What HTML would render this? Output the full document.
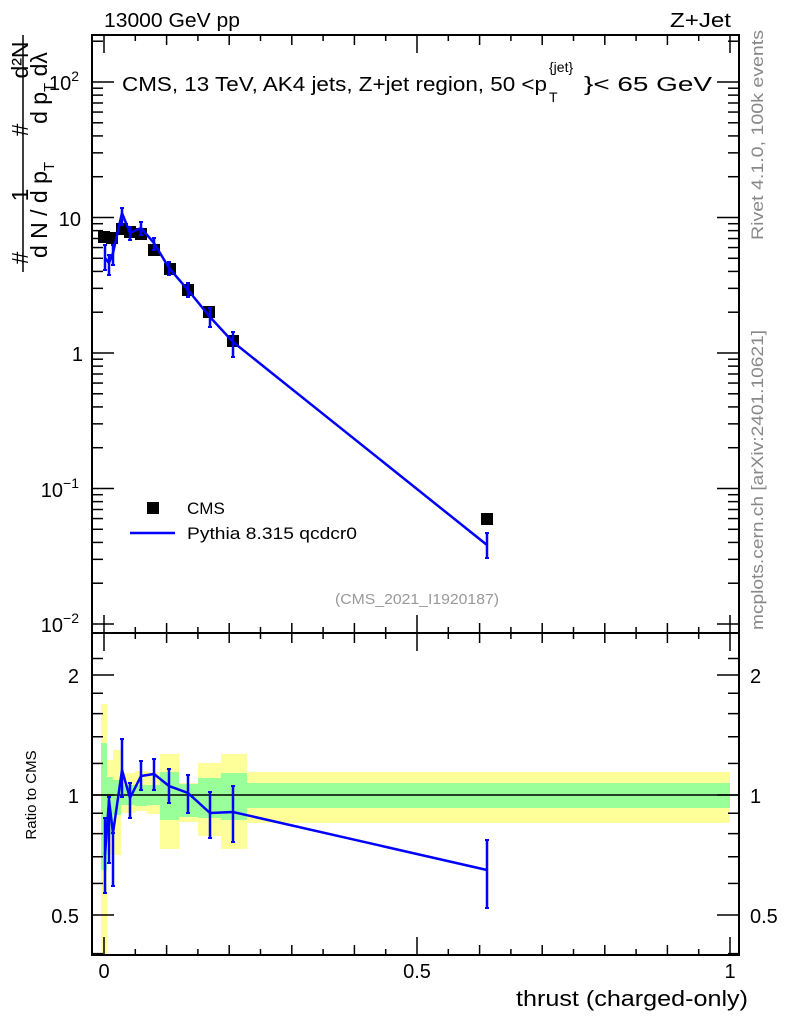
<!DOCTYPE html>
<html><head><meta charset="utf-8"><style>
body{margin:0;background:#fff}
svg{display:block;font-family:"Liberation Sans",sans-serif}
</style></head><body>
<svg id="s" width="786" height="1024" xmlns="http://www.w3.org/2000/svg">
<rect width="786" height="1024" fill="#fff"/>
<g id="bands"></g>
<line x1="92" y1="795" x2="739" y2="795" stroke="#000" stroke-width="1.5"/>
<g id="g"></g>
<rect x="92" y="35" width="647" height="598" fill="none" stroke="#000" stroke-width="2"/>
<rect x="92" y="633" width="647" height="322" fill="none" stroke="#000" stroke-width="2"/>
<g font-size="20">
<text x="104" y="27" textLength="136" lengthAdjust="spacingAndGlyphs">13000 GeV pp</text>
<text x="670" y="27" textLength="61" lengthAdjust="spacingAndGlyphs">Z+Jet</text>
<text x="122" y="91" textLength="425" lengthAdjust="spacingAndGlyphs">CMS, 13 TeV, AK4 jets, Z+jet region, 50 &lt;p</text>
<text x="549" y="102" font-size="14">T</text>
<text x="549" y="72" font-size="14">{jet}</text>
<text x="584" y="91" textLength="128" lengthAdjust="spacingAndGlyphs">}&lt; 65 GeV</text>
<text x="79" y="90" text-anchor="end">10<tspan dy="-9" font-size="14">2</tspan></text>
<text x="81" y="226" text-anchor="end">10</text>
<text x="83" y="361" text-anchor="end">1</text>
<text x="79" y="497" text-anchor="end">10<tspan dy="-9" font-size="14">−1</tspan></text>
<text x="79" y="632" text-anchor="end">10<tspan dy="-9" font-size="14">−2</tspan></text>
<text x="79" y="683" text-anchor="end">2</text>
<text x="79" y="803" text-anchor="end">1</text>
<text x="79" y="923" text-anchor="end">0.5</text>
<text x="750" y="683">2</text>
<text x="750" y="803">1</text>
<text x="750" y="923">0.5</text>
<text x="104" y="978" text-anchor="middle">0</text>
<text x="417" y="978" text-anchor="middle">0.5</text>
<text x="730" y="978" text-anchor="middle">1</text>
<text x="516" y="1006" font-size="22" textLength="232" lengthAdjust="spacingAndGlyphs">thrust (charged-only)</text>
<text x="187" y="514" font-size="17">CMS</text>
<text x="187" y="539" font-size="17" textLength="170" lengthAdjust="spacingAndGlyphs">Pythia 8.315 qcdcr0</text>
</g>
<rect x="147" y="502" width="12" height="12" fill="#000"/>
<line x1="130" y1="533" x2="175" y2="533" stroke="#00f" stroke-width="2.5"/>
<text x="335" y="604" font-size="15" fill="#999" textLength="164" lengthAdjust="spacingAndGlyphs">(CMS_2021_I1920187)</text>
<text transform="translate(763,240) rotate(-90)" font-size="17" fill="#888" textLength="210" lengthAdjust="spacingAndGlyphs">Rivet 4.1.0,  100k events</text>
<text transform="translate(763,630) rotate(-90)" font-size="17" fill="#888" textLength="300" lengthAdjust="spacingAndGlyphs">mcplots.cern.ch [arXiv:2401.10621]</text>
<text transform="translate(36,795) rotate(-90)" font-size="15" text-anchor="middle">Ratio to CMS</text>
<g font-size="23">
<text transform="translate(28,258) rotate(-90)" text-anchor="middle">#</text>
<text transform="translate(28,195) rotate(-90)" text-anchor="middle">1</text>
<text transform="translate(28,130) rotate(-90)" text-anchor="middle">#</text>
<text transform="translate(28,60) rotate(-90)" text-anchor="middle">d²N</text>
<line x1="23" y1="35" x2="23" y2="272" stroke="#000" stroke-width="1.5"/>
<text transform="translate(47,210) rotate(-90)" text-anchor="middle">d N / d p<tspan font-size="15" dy="7">T</tspan></text>
<text transform="translate(47,88) rotate(-90)" text-anchor="middle">d p<tspan font-size="15" dy="7">T</tspan><tspan dy="-7"> dλ</tspan></text>
</g>
</svg>
<script>
const NS="http://www.w3.org/2000/svg";
const g=document.getElementById('g'),b=document.getElementById('bands');
function el(p,t,a){const e=document.createElementNS(NS,t);for(const k in a)e.setAttribute(k,a[k]);p.appendChild(e);return e;}
function ln(x1,y1,x2,y2,c,w){el(g,'line',{x1,y1,x2,y2,stroke:c||'#000','stroke-width':w||1.5});}
for(let d=-2;d<=2;d++){for(let m=1;m<10;m++){const y=353-135.5*(d+Math.log10(m));if(y<35||y>633)continue;const L=m==1?22:11;ln(92,y,92+L,y);ln(739,y,739-L,y);}}
for(const r of [0.4,0.5,0.6,0.7,0.8,0.9,1,1.2,1.4,1.6,1.8,2,2.2]){const y=795-120*Math.log2(r);if(y<633||y>955)continue;const L=(r==0.5||r==1||r==2)?22:11;ln(92,y,92+L,y);ln(739,y,739-L,y);}
for(let i=0;i<=20;i++){const x=104+626*i*0.05;const L=i%10==0?18:(i%2==0?10:6);ln(x,955,x,955-L);ln(x,633,x,633-L);ln(x,633,x,633+L);ln(x,35,x,35+L);}
const bins=[[101,107,704,955,743,870],[107,113,760,855,777,835],[113,121,750,855,780,815],[121,135,773,813,785,805],[135,147,771,811,785,806],[147,160,772,814,785,805],[160,179,754,849,772,820],[179,198,783,822,784,817],[198,221,763,836,778,818],[221,247,754,849,773,820],[247,730,772,823,783,808]];
for(const q of bins){el(b,'rect',{x:q[0],y:q[2],width:q[1]-q[0],height:q[3]-q[2],fill:'#ffff99'});}
for(const q of bins){el(b,'rect',{x:q[0],y:q[4],width:q[1]-q[0],height:q[5]-q[4],fill:'#99ff99'});}
const cms=[[104,237],[112,238],[122,229],[130,232],[141,234],[154,250],[170,269],[188,290],[209,312],[233,341],[487,519]];
for(const p of cms)el(g,'rect',{x:p[0]-6,y:p[1]-6,width:12,height:12,fill:'#000'});
const py=[[105,258,245,270],[109,263,255,275],[113,253,245,265],[122,213,208,225],[130,233,227,240],[141,228,222,235],[154,243,238,250],[169,268,262,275],[188,290,283,297],[210,317,308,327],[233,342,332,357],[487,545,533,558]];
el(g,'polyline',{points:py.map(p=>p[0]+','+p[1]).join(' '),fill:'none',stroke:'#00f','stroke-width':2.5});
for(const p of py){ln(p[0],p[2],p[0],p[3],'#00f',2.5);ln(p[0]-2,p[2],p[0]+2,p[2],'#00f',2);ln(p[0]-2,p[3],p[0]+2,p[3],'#00f',2);}
const rt=[[105,855,818,893],[109,800,797,863],[113,833,833,886],[122,770,739,797],[130,798,783,818],[141,776,761,790],[154,774,759,790],[169,786,769,803],[188,793,775,813],[210,813,792,838],[233,812,786,842],[487,870,840,908]];
el(g,'polyline',{points:rt.map(p=>p[0]+','+p[1]).join(' '),fill:'none',stroke:'#00f','stroke-width':2.5});
for(const p of rt){ln(p[0],p[2],p[0],p[3],'#00f',2.5);ln(p[0]-2,p[2],p[0]+2,p[2],'#00f',2);ln(p[0]-2,p[3],p[0]+2,p[3],'#00f',2);}
</script>
</body></html>
